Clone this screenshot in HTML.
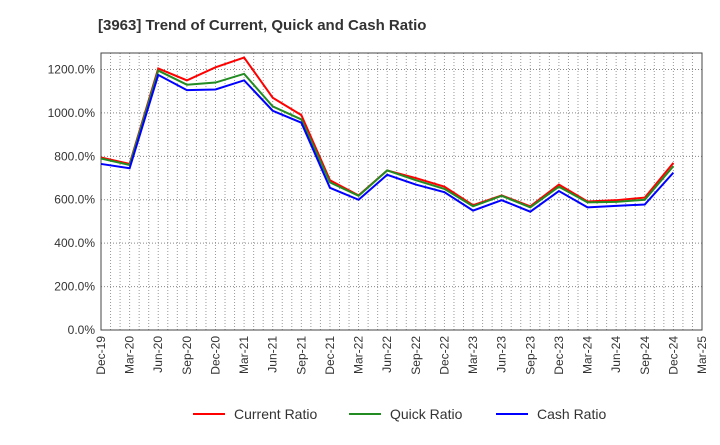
<!DOCTYPE html>
<html><head><meta charset="utf-8"><style>
body{margin:0;background:#fff;font-family:"Liberation Sans",sans-serif;}
</style></head><body>
<svg id="c" width="720" height="440" xmlns="http://www.w3.org/2000/svg">
<text x="98" y="30" font-size="15" font-weight="bold" fill="#333">[3963]  Trend of Current, Quick and Cash Ratio</text>
<g id="grid"></g><g id="axes"></g><g id="series"></g>
<g id="legend"></g>
</svg>
<script>
const categories=["Dec-19","Mar-20","Jun-20","Sep-20","Dec-20","Mar-21","Jun-21","Sep-21","Dec-21","Mar-22","Jun-22","Sep-22","Dec-22","Mar-23","Jun-23","Sep-23","Dec-23","Mar-24","Jun-24","Sep-24","Dec-24","Mar-25"];
const currentRatio=[795,765,1205,1150,1210,1255,1070,990,690,620,735,700,660,575,620,570,670,592,598,610,770];
const quickRatio=[790,760,1195,1130,1140,1180,1030,970,680,618,735,690,650,570,618,565,660,588,590,600,755];
const cashRatio=[765,745,1175,1105,1108,1150,1010,955,655,600,715,670,635,550,598,545,640,565,572,578,725];
const yTicks=[0,200,400,600,800,1000,1200];
const L=101,R=702,T=53,B=330,YMAX=1276;
const ns="http://www.w3.org/2000/svg";
const x=i=>L+(R-L)*i/(categories.length-1);
const y=v=>B-(B-T)*v/YMAX;
function mk(tag,attrs,parent){const e=document.createElementNS(ns,tag);for(const k in attrs)e.setAttribute(k,attrs[k]);document.getElementById(parent).appendChild(e);return e;}
// monthly vertical grid
for(let m=1;m<(categories.length-1)*3;m++){const xx=L+(R-L)*m/((categories.length-1)*3);
const g=mk("line",{x1:xx,x2:xx,y1:T,y2:B,stroke:"#999","stroke-width":1,"stroke-dasharray":"1,2"},"grid");

}
yTicks.forEach(v=>{if(v>0){const g=mk("line",{x1:L,x2:R,y1:y(v),y2:y(v),stroke:"#888","stroke-width":1,"stroke-dasharray":"1,2"},"grid");

}
const t=mk("text",{x:L-6,y:y(v)+4,"text-anchor":"end","font-size":12,fill:"#333"},"axes");t.textContent=v.toFixed(1)+"%";

});
const fr=mk("rect",{x:L,y:T,width:R-L,height:B-T,fill:"none",stroke:"#444","stroke-width":1},"axes");


categories.forEach((c,i)=>{const t=mk("text",{transform:`translate(${x(i)+4},${B+6}) rotate(-90)`,"text-anchor":"end","font-size":12,fill:"#333"},"axes");t.textContent=c;

});
[[currentRatio,"#ff0000","current-ratio-line"],[quickRatio,"#228b22","quick-ratio-line"],[cashRatio,"#0000ff","cash-ratio-line"]].forEach(([d,col,n])=>{
const p=mk("polyline",{points:d.map((v,i)=>x(i)+","+y(v)).join(" "),fill:"none",stroke:col,"stroke-width":2},"series");

});
[["Current Ratio","#ff0000",193],["Quick Ratio","#228b22",349],["Cash Ratio","#0000ff",496]].forEach(([n,col,lx])=>{
const l=mk("line",{x1:lx,x2:lx+32,y1:414,y2:414,stroke:col,"stroke-width":2},"legend");


const t=mk("text",{x:lx+41,y:419,"font-size":14,fill:"#333"},"legend");t.textContent=n;

});
</script>
</body></html>
